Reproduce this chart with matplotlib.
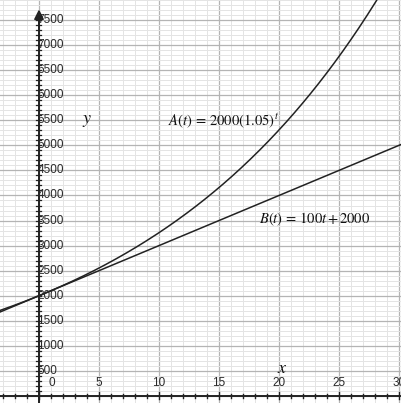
import numpy as np
import matplotlib
matplotlib.use("Agg")
import matplotlib.pyplot as plt

plt.rcParams["mathtext.fontset"] = "stix"

# Model parameters
a0, growth = 2000, 1.05          # A(t) = 2000 (1.05)^t
b0, slope = 2000, 100            # B(t) = 100 t + 2000

x_min, x_max = -3.25, 30.17
y_min, y_max = -140, 7900

x_tick_vals = [0, 5, 10, 15, 20, 25, 30]
y_tick_vals = [500, 1000, 1500, 2000, 2500, 3000, 3500, 4000,
               4500, 5000, 5500, 6000, 6500, 7000, 7500]

fig = plt.figure(figsize=(4.01, 4.03), dpi=100)
ax = fig.add_axes([0, 0, 1, 1])
ax.set_xlim(x_min, x_max)
ax.set_ylim(y_min, y_max)
for s in ax.spines.values():
    s.set_visible(False)
ax.set_xticks([])
ax.set_yticks([])

# Grid: light every 1 / 100, darker every 5 / 500
for xv in np.arange(-3, 31, 1):
    major = xv % 5 == 0
    ax.axvline(xv, color="#b4b4b4" if major else "#e4e4e4",
               lw=0.9 if major else 0.7, zorder=0)
for yv in np.arange(0, 8000, 100):
    major = yv % 500 == 0
    ax.axhline(yv, color="#b4b4b4" if major else "#e4e4e4",
               lw=0.9 if major else 0.7, zorder=0)

# Axes with crossing tick marks
ax.axhline(0, color="#222222", lw=1.4, zorder=3)
ax.plot([0, 0], [y_min, 7600], color="#222222", lw=1.4, zorder=3)
ax.annotate("", xy=(0, 7770), xytext=(0, 7300),
            arrowprops=dict(arrowstyle="-|>", color="#222222", lw=1.4,
                            mutation_scale=14), zorder=4)

x_per_px = (x_max - x_min) / 401
y_per_px = (y_max - y_min) / 403
for xv in np.arange(-3, 31, 1):
    h = (3.5 if xv % 5 == 0 else 2.2) * y_per_px
    ax.plot([xv, xv], [-h, h], color="#222222", lw=1.0, zorder=3)
for yv in np.arange(100, 7600, 100):
    w = 2.5 * x_per_px
    ax.plot([-w, w], [yv, yv], color="#222222", lw=0.9, zorder=3)

# Tick labels
label_color = "#2a2a2a"
for xv in x_tick_vals:
    xpos = 1.1 if xv == 0 else xv
    ax.text(xpos, 13 * y_per_px, str(xv), ha="center", va="center",
            fontsize=8.5, family="Liberation Sans", color=label_color,
            zorder=5)
for yv in y_tick_vals:
    ax.text(-0.15, yv, str(yv), ha="left", va="center",
            fontsize=8.5, family="Liberation Sans", color=label_color,
            zorder=5)

# Curves
t = np.linspace(x_min, x_max, 400)
ax.plot(t, a0 * growth ** t, color="#222222", lw=1.1, zorder=4)
ax.plot(t, b0 + slope * t, color="#222222", lw=1.1, zorder=4)

# Annotations
ax.text(10.75, 5500, r"$A(t)\,{=}\,2000(1.05)^t$", fontsize=10.5,
        ha="left", va="center", color="#111111", zorder=5)
ax.text(18.35, 3520, r"$B(t)\,{=}\,100t\,{+}\,2000$", fontsize=10.5,
        ha="left", va="center", color="#111111", zorder=5)
ax.text(4.0, 5500, r"$y$", fontsize=13, ha="center", va="center",
        color="#111111", zorder=5)
ax.text(20.3, 560, r"$x$", fontsize=13, ha="center", va="center",
        color="#111111", zorder=5)

fig.savefig("out.png", dpi=100)
